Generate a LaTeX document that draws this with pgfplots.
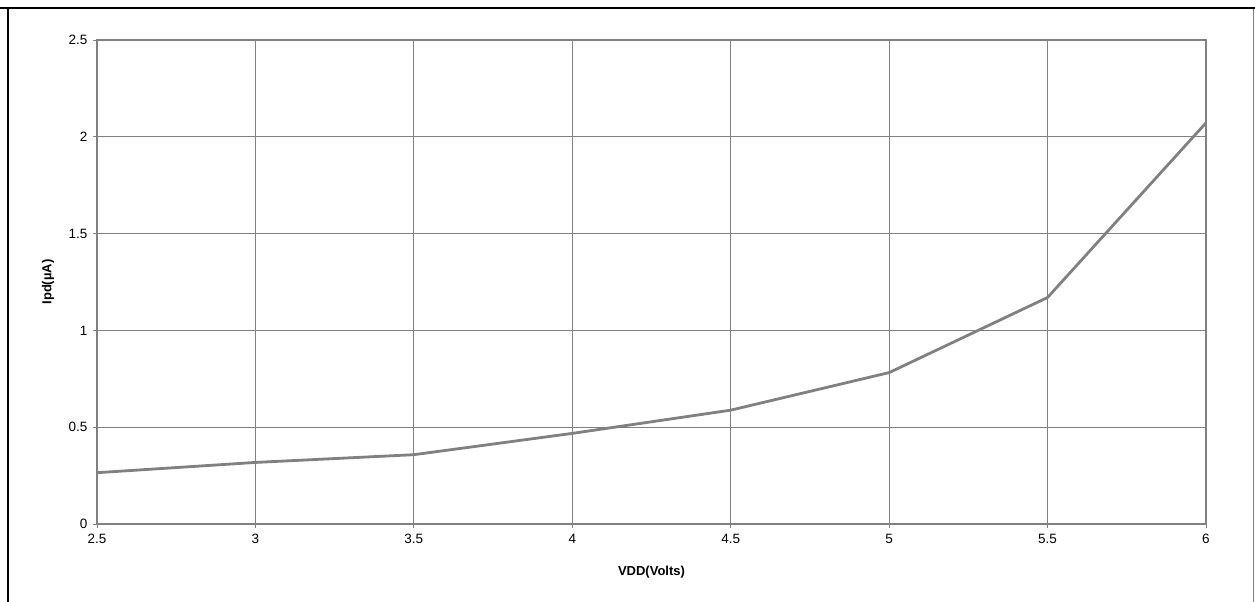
\documentclass[border=0pt]{standalone}
\usepackage{fontspec}
\setmainfont{Liberation Sans}
\usepackage{pgfplots}
\pgfplotsset{compat=1.18}
\definecolor{xlgray}{HTML}{808080}
\begin{document}
\begin{tikzpicture}[x=1pt,y=1pt]
\useasboundingbox (0,0) rectangle (1255,602);
\begin{axis}[
  at={(97pt,78pt)}, anchor=south west,
  scale only axis, width=1109pt, height=484pt,
  xmin=2.5, xmax=6, ymin=0, ymax=2.5,
  xtick={2.5,3,...,6}, ytick={0,0.5,...,2.5},
  xticklabels={2.5,3,3.5,4,4.5,5,5.5,6},
  yticklabels={0,0.5,1,1.5,2,2.5},
  grid=major,
  major grid style={xlgray, line width=0.9pt},
  axis line style={xlgray, line width=2.4pt},
  tick style={xlgray, line width=0.9pt},
  major tick length=4pt,
  tick align=outside,
  xtick pos=bottom, ytick pos=left,
  ticklabel style={font=\fontsize{13.5}{15}\selectfont, text=black},
  /pgf/number format/assume math mode=true,
  yticklabel style={anchor=east, xshift=-2pt},
  xticklabel style={anchor=north, yshift=-3pt},
  xlabel={VDD(Volts)},
  ylabel={Ipd(µA)},
  label style={font=\bfseries\fontsize{13}{15}\selectfont},
  xlabel style={at={(axis description cs:0.5,0)}, anchor=center, yshift=-48pt},
  ylabel style={at={(axis description cs:0,0.5)}, anchor=center, rotate=0, yshift=49pt},
  clip=false,
]
\addplot[xlgray, line width=2.8pt, line join=round] coordinates {
  (2.5,0.265) (3,0.318) (3.5,0.358) (4,0.468) (4.5,0.588) (5,0.782) (5.5,1.17) (6,2.072)
};
\end{axis}
\draw[black, line width=2.2pt] (0,594) -- (1255,594);
\draw[black, line width=2.2pt] (8,0) -- (8,595);
\draw[xlgray, line width=1pt] (1253.5,0) -- (1253.5,593);
\end{tikzpicture}
\end{document}
